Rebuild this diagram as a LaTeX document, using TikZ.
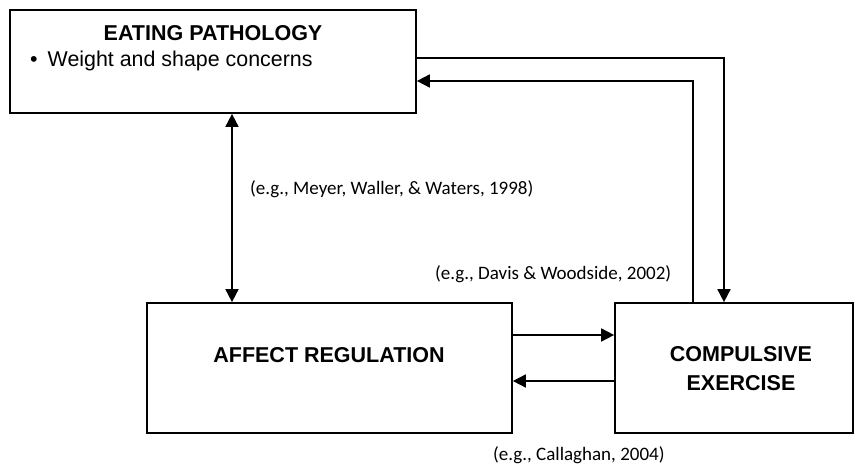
\documentclass[tikz,border=0pt]{standalone}
\usepackage{fontspec}
\setmainfont{Liberation Sans}
\newfontfamily\citefont{Carlito}
\usetikzlibrary{arrows.meta}
\tikzset{tri/.tip={Triangle[length=13pt,width=13pt]}}
\begin{document}
\begin{tikzpicture}[x=1pt,y=-1pt,
  box/.style={draw,line width=1.7pt,rectangle,inner sep=0pt},
  conn/.style={line width=1.7pt},
  tip/.style={-tri},
  boxlabel/.style={font=\fontsize{21.5}{29.7}\selectfont\bfseries,align=center,inner sep=0pt},
  cite/.style={font=\citefont\fontsize{19}{22}\selectfont,anchor=base west,inner sep=0pt}]
\useasboundingbox (0,0) rectangle (855,465);

% boxes
\node[box,minimum width=406pt,minimum height=103pt] (ep) at (213,61.5) {};
\node[box,minimum width=365pt,minimum height=130pt] (ar) at (329.5,368) {};
\node[box,minimum width=238pt,minimum height=130pt] (ce) at (734,368) {};

% box texts
\node[boxlabel,anchor=base] (eptitle) at (213,40.7) {EATING PATHOLOGY};
\node[font=\fontsize{21.4}{25}\selectfont,anchor=base west,inner sep=0pt] (epitem) at (30,67) {\textbullet\hspace{10pt}Weight and shape concerns};
\node[boxlabel] (artext) at (329,355.5) {AFFECT REGULATION};
\node[boxlabel] (cetext) at (741,368.5) {COMPULSIVE\\EXERCISE};

% routing points
\coordinate (vx) at (232,0);
\coordinate (r1) at (724,58);
\coordinate (r2) at (693,81);
\coordinate (h1) at (0,335);
\coordinate (h2) at (0,381);

% connectors
\draw[conn,tri-tri] (ep.south -| vx) -- (ar.north -| vx);
\draw[conn,tip] (ep.east |- r1) -- (r1) -- (ce.north -| r1);
\draw[conn,tip] (ce.north -| r2) -- (r2) -- (ep.east |- r2);
\draw[conn,tip] (ar.east |- h1) -- (ce.west |- h1);
\draw[conn,tip] (ce.west |- h2) -- (ar.east |- h2);

% citations
\node[cite] (c1) at (250,195) {(e.g., Meyer, Waller, \& Waters, 1998)};
\node[cite] (c2) at (435,280) {(e.g., Davis \& Woodside, 2002)};
\node[cite] (c3) at (493,460) {(e.g., Callaghan, 2004)};
\end{tikzpicture}
\end{document}
